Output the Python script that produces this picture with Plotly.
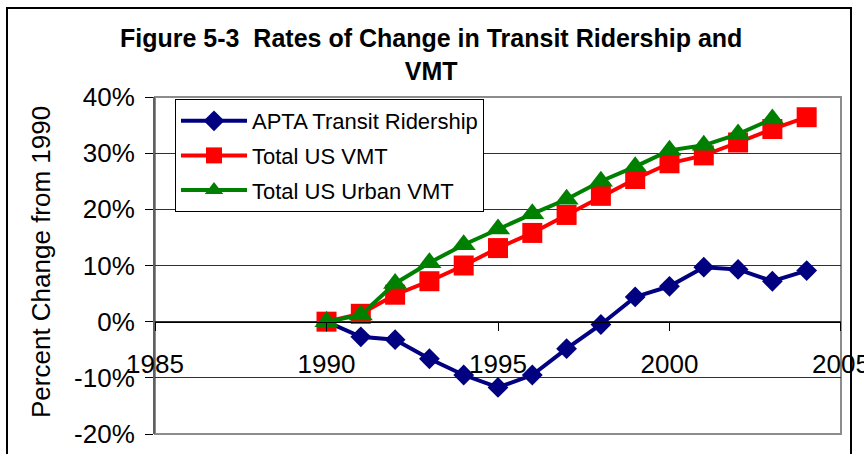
import plotly.graph_objects as go

# Percent change from 1990, by year
years = list(range(1990, 2005))
apta_ridership = [0.0, -2.7, -3.2, -6.6, -9.5, -11.7, -9.5, -4.8, -0.5, 4.4, 6.3, 9.7, 9.3, 7.2, 9.1]
us_vmt = [0.0, 1.4, 4.8, 7.2, 10.0, 13.1, 15.8, 19.0, 22.4, 25.4, 28.2, 29.6, 31.9, 34.3, 36.4]
urban_years = list(range(1990, 2004))
us_urban_vmt = [0.0, 1.2, 6.8, 10.5, 13.7, 16.5, 19.2, 21.8, 25.0, 27.6, 30.5, 31.4, 33.4, 36.1]

series_names = ["APTA Transit Ridership", "Total US VMT", "Total US Urban VMT"]
x_ticks = [1985, 1990, 1995, 2000, 2005]
y_ticks = [-20, -10, 0, 10, 20, 30, 40]
y_tick_text = [f"{v}%" for v in y_ticks]

FONT = "Liberation Sans, Arial, Helvetica, sans-serif"

fig = go.Figure()
fig.add_trace(go.Scatter(
    x=years, y=apta_ridership, name=series_names[0], legendgroup="a",
    mode="lines+markers", line=dict(color="#000080", width=4),
    marker=dict(symbol="diamond", size=16, color="#000080"),
))
fig.add_trace(go.Scatter(
    x=years, y=us_vmt, name=series_names[1], legendgroup="b",
    mode="lines+markers", line=dict(color="#FF0000", width=4),
    marker=dict(symbol="square", size=20, color="#FF0000"),
))
fig.add_trace(go.Scatter(
    x=urban_years, y=us_urban_vmt, name=series_names[2], legendgroup="c",
    mode="lines+markers", line=dict(color="#008000", width=4),
    marker=dict(symbol="triangle-up", size=21, color="#008000"),
))

L, R, T, B = 155, 23, 97, 20
W, H = 864, 454
pw, ph = W - L - R, H - T - B

def px_x(p):
    return (p - L) / pw

def px_y(p):
    return (H - B - p) / ph

fig.update_layout(
    width=W, height=H,
    margin=dict(l=L, r=R, t=T, b=B, pad=0),
    paper_bgcolor="white", plot_bgcolor="white",
    font=dict(family=FONT, color="black"),
    showlegend=True,
    legend=dict(
        x=px_x(175), y=px_y(99), xanchor="left", yanchor="top",
        bgcolor="white", bordercolor="black", borderwidth=1,
        font=dict(size=22, family=FONT), traceorder="grouped",
        tracegroupgap=3, itemwidth=66,
    ),
    xaxis=dict(
        range=[1984.999, 2005.001], tickmode="array", tickvals=x_ticks,
        ticktext=[str(v) for v in x_ticks],
        anchor="free", position=1/3, showgrid=False, zeroline=False,
        showline=True, linecolor="black", linewidth=1,
        ticks="outside", ticklen=8, tickcolor="black",
        tickfont=dict(size=26, family=FONT), ticklabelstandoff=11,
        ticklabeloverflow="allow", automargin=False,
    ),
    yaxis=dict(
        range=[-20, 40], tickmode="array", tickvals=y_ticks, ticktext=y_tick_text,
        showgrid=True, gridcolor="#303030", gridwidth=1, zeroline=False,
        showline=True, linecolor="#606060", linewidth=2,
        ticks="outside", ticklen=8, tickcolor="black",
        tickfont=dict(size=26, family=FONT), ticklabelstandoff=5,
        automargin=False,
    ),
)

# Plot area frame and the outer chart border
fig.add_shape(type="rect", xref="paper", yref="paper", x0=0, x1=1, y0=0, y1=1,
              line=dict(color="#8c8c8c", width=2), layer="below")
fig.add_shape(type="rect", xref="paper", yref="paper",
              x0=px_x(7), x1=px_x(851), y0=px_y(470), y1=px_y(8),
              line=dict(color="black", width=2), layer="below")

# Title
fig.add_annotation(
    text="<b>Figure 5-3 \u00a0Rates of Change in Transit Ridership and<br>VMT</b>",
    xref="paper", yref="paper", x=px_x(431), y=px_y(55), xanchor="center", yanchor="middle",
    showarrow=False, font=dict(size=25, family=FONT, color="black"), align="center",
)

# Vertical axis title
fig.add_annotation(
    text="Percent Change from 1990", textangle=-90,
    xref="paper", yref="paper", x=px_x(41), y=px_y(262), xanchor="center", yanchor="middle",
    showarrow=False, font=dict(size=26, family=FONT, color="black"),
)

fig.write_html("out.html")
